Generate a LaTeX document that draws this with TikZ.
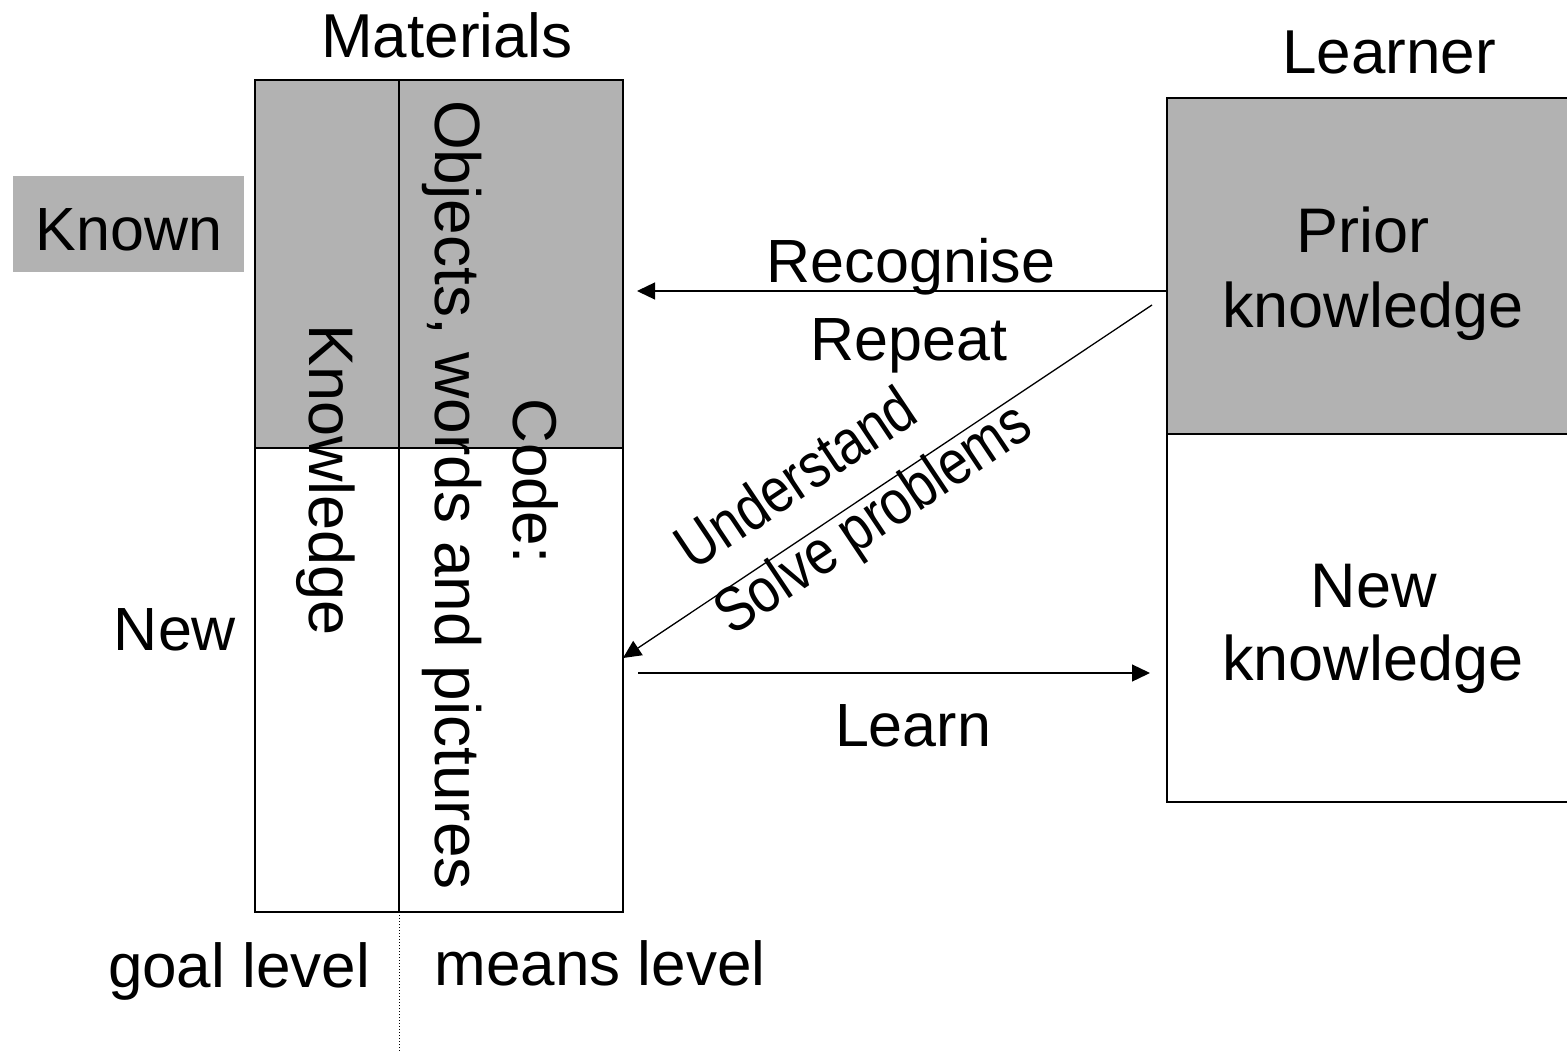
\documentclass[tikz,border=0pt]{standalone}
\usepackage{fontspec}
\setmainfont{Liberation Sans}
\newfontfamily\narrowsans[FakeStretch=0.84]{Liberation Sans}
\usetikzlibrary{arrows.meta}
\definecolor{boxgray}{RGB}{178,178,178}
\begin{document}
\begin{tikzpicture}[x=1pt,y=-1pt,
  txt/.style={font=\fontsize{61}{73}\selectfont, inner sep=0pt, outer sep=0pt},
  big/.style={font=\fontsize{62}{74}\selectfont},
  bigger/.style={font=\fontsize{63}{75}\selectfont},
  diag/.style={rotate=33.8, font=\narrowsans\fontsize{63}{72}\selectfont},
  cell/.style={draw, line width=1.5pt, inner sep=0pt, outer sep=0pt, anchor=north west},
  shade/.style={fill=boxgray},
  arr/.style={line width=1.3pt, -{Triangle[length=18pt,width=17pt]}}]
\useasboundingbox (0,0) rectangle (1567,1052);
% Materials cells
\node[cell, shade, minimum width=144pt, minimum height=368pt] (kl) at (255,80) {};
\node[cell, shade, minimum width=224pt, minimum height=368pt] (kr) at (399,80) {};
\node[cell, minimum width=144pt, minimum height=464pt] (nl) at (255,448) {};
\node[cell, minimum width=224pt, minimum height=464pt] (nr) at (399,448) {};
% Learner cells
\node[cell, shade, minimum width=420pt, minimum height=336pt] (prior) at (1167,98) {};
\node[cell, minimum width=420pt, minimum height=368pt] (newk) at (1167,434) {};
% Known box
\node[shade, inner sep=0pt, anchor=north west, minimum width=231pt, minimum height=96pt] (knownbox) at (13,176) {};
% titles
\node[txt, big, anchor=base] (materials) at (447,57) {Materials};
\node[txt, big, anchor=base] (learner) at (1389,73) {Learner};
\node[txt, anchor=base] (known) at (129,250) {Known};
\node[txt, anchor=base] (newl) at (175,650) {New};
% rotated texts
\node[txt, bigger, rotate=-90] (knowledge) at (326,480) {Knowledge};
\node[txt, font=\fontsize{64}{76}\selectfont, rotate=-90] (objects) at (452,495) {Objects, words and pictures};
\node[txt, big, rotate=-90] (code) at (536,481) {Code:};
% learner texts
\node[txt, bigger, anchor=base] (prior1) at (1363,252) {Prior};
\node[txt, bigger, anchor=base] (prior2) at (1373,327) {knowledge};
\node[txt, bigger, anchor=base] (new1) at (1374,607) {New};
\node[txt, bigger, anchor=base] (new2) at (1373,680) {knowledge};
% arrow labels
\node[txt, anchor=base] (recognise) at (911,282) {Recognise};
\node[txt, anchor=base] (repeat) at (909,360) {Repeat};
\node[txt, anchor=base] (learn) at (913,746) {Learn};
\node[txt, diag] (understand) at (795,477) {Understand};
\node[txt, diag] (solve) at (875,522) {Solve problems};
% bottom
\node[txt, big, anchor=base] (goal) at (239,987) {goal level};
\node[txt, big, anchor=base] (means) at (600,985) {means level};
% connectors
\coordinate (recS) at (1167,291);
\coordinate (recE) at (637,291);
\coordinate (diagS) at (1152,305);
\coordinate (diagE) at (623,658);
\coordinate (learnS) at (638,673);
\coordinate (learnE) at (1150,673);
\coordinate (dotE) at (399,1052);
\draw[arr] (recS) -- (recE);
\draw[arr] (diagS) -- (diagE);
\draw[arr] (learnS) -- (learnE);
\draw[line width=1pt, dotted] (nl.south east) -- (dotE);
\end{tikzpicture}
\end{document}
